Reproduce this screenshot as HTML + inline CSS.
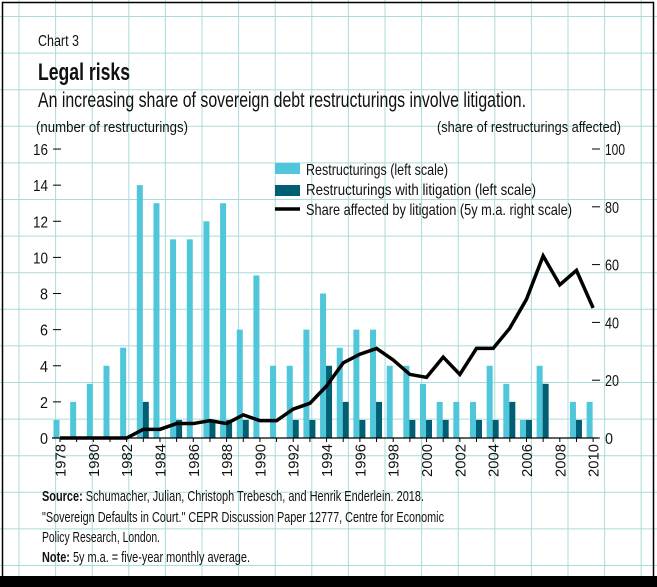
<!DOCTYPE html>
<html><head><meta charset="utf-8"><style>
html,body{margin:0;padding:0;background:#fff;}
svg{display:block;}
text{font-family:"Liberation Sans Narrow","Liberation Sans",sans-serif;fill:#111;}
</style></head><body>
<svg width="657" height="587" viewBox="0 0 657 587" xmlns="http://www.w3.org/2000/svg">
<rect width="657" height="587" fill="#fff"/>
<g id="grid" stroke="#a9dcdc" stroke-width="1"></g>
<rect x="2.5" y="2.5" width="651" height="580" fill="none" stroke="#000" stroke-width="1.5"/>
<rect x="0" y="576" width="657" height="11" fill="#000"/>
<text x="38" y="46" font-size="16" textLength="41" lengthAdjust="spacingAndGlyphs">Chart 3</text>
<text x="38" y="80" font-size="24" font-weight="bold" textLength="92" lengthAdjust="spacingAndGlyphs">Legal risks</text>
<text x="38" y="107" font-size="21" textLength="488" lengthAdjust="spacingAndGlyphs">An increasing share of sovereign debt restructurings involve litigation.</text>
<text x="36" y="132" font-size="15" textLength="152" lengthAdjust="spacingAndGlyphs">(number of  restructurings)</text>
<text x="437" y="132" font-size="15" textLength="184" lengthAdjust="spacingAndGlyphs">(share of restructurings affected)</text>
<g id="plot"></g>
<rect x="275" y="163" width="25" height="11" fill="#4fc6d9"/>
<rect x="275" y="185" width="25" height="11" fill="#005f73"/>
<line x1="275" y1="209" x2="300" y2="209" stroke="#000" stroke-width="3.5"/>
<text x="306" y="175" font-size="16" textLength="142" lengthAdjust="spacingAndGlyphs">Restructurings (left scale)</text>
<text x="306" y="195" font-size="16" textLength="230" lengthAdjust="spacingAndGlyphs">Restructurings with litigation  (left scale)</text>
<text x="306" y="215" font-size="16" textLength="266" lengthAdjust="spacingAndGlyphs">Share affected by litigation (5y m.a. right scale)</text>
<text x="42" y="501" font-size="15" textLength="382" lengthAdjust="spacingAndGlyphs"><tspan font-weight="bold">Source:</tspan> Schumacher, Julian, Christoph Trebesch, and Henrik Enderlein. 2018.</text>
<text x="42" y="522" font-size="15" textLength="402" lengthAdjust="spacingAndGlyphs">"Sovereign Defaults in Court." CEPR Discussion Paper 12777, Centre for Economic</text>
<text x="42" y="542" font-size="15" textLength="118" lengthAdjust="spacingAndGlyphs">Policy Research, London.</text>
<text x="42" y="562" font-size="15" textLength="208" lengthAdjust="spacingAndGlyphs"><tspan font-weight="bold">Note:</tspan> 5y m.a. = five-year monthly average.</text>
</svg>
<script>
const NS="http://www.w3.org/2000/svg";
function el(p,t,a,txt){const e=document.createElementNS(NS,t);for(const k in a)e.setAttribute(k,a[k]);if(txt!==undefined)e.textContent=txt;p.appendChild(e);return e;}
const g=document.getElementById('grid');
for(let x=19;x<657;x+=36.6)el(g,'line',{x1:x,y1:0,x2:x,y2:587});
for(let y=16.5;y<587;y+=36.6)el(g,'line',{x1:0,y1:y,x2:657,y2:y});
const p=document.getElementById('plot');
const x0=60,dx=16.66,y0=438,ly=18.06,ry=2.89;
const L=[1,2,3,4,5,14,13,11,11,12,13,6,9,4,4,6,8,5,6,6,4,4,3,2,2,2,4,3,1,4,0,2,2];
const D={1983:2,1985:1,1987:1,1988:1,1989:1,1992:1,1993:1,1994:4,1995:2,1996:1,1997:2,1999:1,2000:1,2001:1,2003:1,2004:1,2005:2,2006:1,2007:3,2009:1};
const S=[0,0,0,0,0,3,3,5,5,6,5,8,6,6,10,12,18,26,29,31,27,22,21,28,22,31,31,38,48,63,53,58,45];
for(let i=0;i<33;i++){const yr=1978+i,x=x0+i*dx;
 if(L[i])el(p,'rect',{x:x-6.5,y:y0-L[i]*ly,width:6,height:L[i]*ly,fill:'#4fc6d9'});
 if(D[yr])el(p,'rect',{x:x-0.5,y:y0-D[yr]*ly,width:6,height:D[yr]*ly,fill:'#005f73'});
 el(p,'line',{x1:x,y1:y0,x2:x,y2:y0+4,stroke:'#000','stroke-width':1});
 if(i%2==0){el(p,'text',{x:0,y:0,'font-size':15,transform:`translate(${x+5.5},477) rotate(-90)`,textLength:33,lengthAdjust:'spacingAndGlyphs'},String(yr));}
}
el(p,'line',{x1:52,y1:y0,x2:598,y2:y0,stroke:'#000','stroke-width':1.2});
for(let v=0;v<=16;v+=2){const y=y0-v*ly;el(p,'line',{x1:53,y1:y,x2:61,y2:y,stroke:'#000','stroke-width':1});
 el(p,'text',{x:48,y:y+6,'font-size':16,'text-anchor':'end',textLength:v>=10?15:8,lengthAdjust:'spacingAndGlyphs'},String(v));}
for(let v=0;v<=100;v+=20){const y=y0-v*ry;el(p,'line',{x1:592,y1:y,x2:600,y2:y,stroke:'#000','stroke-width':1});
 el(p,'text',{x:605,y:y+6,'font-size':16,textLength:v==100?20:(v==0?8:14),lengthAdjust:'spacingAndGlyphs'},String(v));}
el(p,'polyline',{points:S.map((v,i)=>(x0+i*dx)+','+(y0-v*ry)).join(' '),fill:'none',stroke:'#000','stroke-width':3.5,'stroke-linejoin':'miter'});
</script>
</body></html>
